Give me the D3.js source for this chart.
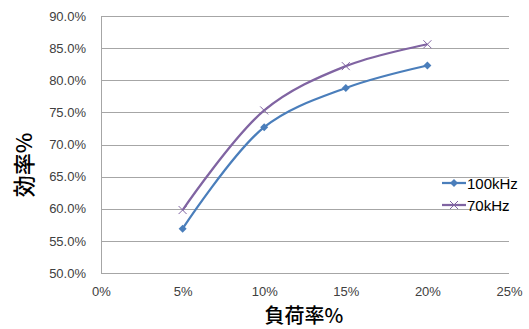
<!DOCTYPE html>
<html><head><meta charset="utf-8">
<script src="https://cdn.jsdelivr.net/npm/d3@7"></script>
<style>body{margin:0;background:#fff}svg{display:block}</style>
</head><body>
<svg id="c" width="529" height="329"></svg>
<script>
// Load ratio (x) and efficiency (y) for each switching frequency
const loads = [0.05, 0.10, 0.15, 0.20];
const eff100k = [0.569, 0.727, 0.788, 0.823];
const eff70k = [0.598, 0.753, 0.822, 0.856];
const seriesNames = ["100kHz", "70kHz"];
const xTicks = [0, 0.05, 0.10, 0.15, 0.20, 0.25];
const yTicks = [0.50, 0.55, 0.60, 0.65, 0.70, 0.75, 0.80, 0.85, 0.90];

(function () {
const svg = d3.select("#c");
const plotLeft = 101, plotRight = 509, plotTop = 16, plotBottom = 273;
const x = d3.scaleLinear().domain([0, 0.25]).range([plotLeft, plotRight]);
const y = d3.scaleLinear().domain([0.50, 0.90]).range([plotBottom, plotTop]);
const font = "'Liberation Sans', Arial, sans-serif";
const cjk = "'Noto Sans CJK JP', sans-serif";
const tickColor = "#404040";

// horizontal gridlines
svg.append("g").selectAll("line").data(yTicks).join("line")
  .attr("x1", plotLeft).attr("x2", plotRight)
  .attr("y1", d => Math.round(y(d)) + 0.5).attr("y2", d => Math.round(y(d)) + 0.5)
  .attr("stroke", "#a6a6a6").attr("stroke-width", 1);
// vertical axis line
svg.append("line").attr("x1", plotLeft + 0.5).attr("x2", plotLeft + 0.5)
  .attr("y1", plotTop).attr("y2", plotBottom + 0.5)
  .attr("stroke", "#a6a6a6");

// y tick labels
const yAxis = d3.axisLeft(y).tickValues(yTicks).tickFormat(d3.format(".1%")).tickSize(0).tickPadding(15);
const gy = svg.append("g").attr("transform", `translate(${plotLeft},0)`).call(yAxis);
gy.select(".domain").remove();
gy.selectAll("text").attr("font-family", font).attr("font-size", 13).attr("fill", tickColor);

// x tick labels
const xAxis = d3.axisBottom(x).tickValues(xTicks).tickFormat(d3.format(".0%")).tickSize(0).tickPadding(14);
const gx = svg.append("g").attr("transform", `translate(0,${plotBottom})`).call(xAxis);
gx.select(".domain").remove();
gx.selectAll("text").attr("font-family", font).attr("font-size", 13).attr("fill", tickColor);

// axis titles
svg.append("text").attr("transform", "translate(32,165) rotate(-90)")
  .attr("text-anchor", "middle").attr("font-family", cjk)
  .attr("font-size", 22).attr("font-weight", 500).attr("fill", "#000").text("効率%");
svg.append("text").attr("x", 304).attr("y", 323)
  .attr("text-anchor", "middle").attr("font-family", cjk)
  .attr("font-size", 20).attr("font-weight", 500).attr("fill", "#000").text("負荷率%");

const line = d3.line().x(d => x(d[0])).y(d => y(d[1])).curve(d3.curveCatmullRom.alpha(0.5));
const colors = ["#4a7ebb", "#8064a2"];
const data = [eff100k, eff70k].map(vals => loads.map((l, i) => [l, vals[i]]));

data.forEach((pts, si) => {
  svg.append("path").attr("d", line(pts)).attr("fill", "none")
    .attr("stroke", colors[si]).attr("stroke-width", 2.25);
});

// markers: diamond for 100kHz, cross for 70kHz
function diamond(g, cx, cy, c) {
  g.append("path").attr("d", `M${cx},${cy-4}L${cx+4},${cy}L${cx},${cy+4}L${cx-4},${cy}Z`).attr("fill", c);
}
function cross(g, cx, cy, c) {
  g.append("path").attr("d", `M${cx-4},${cy-4}L${cx+4},${cy+4}M${cx-4},${cy+4}L${cx+4},${cy-4}`)
    .attr("stroke", c).attr("stroke-width", 1).attr("fill", "none");
}
const mg = svg.append("g");
data[0].forEach(p => diamond(mg, x(p[0]), y(p[1]), colors[0]));
data[1].forEach(p => cross(mg, x(p[0]), y(p[1]), colors[1]));

// legend
const lg = svg.append("g");
seriesNames.forEach((name, i) => {
  const ly = 183 + i * 22;
  lg.append("line").attr("x1", 442).attr("x2", 466).attr("y1", ly).attr("y2", ly)
    .attr("stroke", colors[i]).attr("stroke-width", 2.25);
  if (i === 0) diamond(lg, 454, ly, colors[i]); else cross(lg, 454, ly, colors[i]);
  lg.append("text").attr("x", 467).attr("y", ly + 5.5).attr("font-family", font)
    .attr("font-size", 15).attr("fill", "#000").text(name);
});
})();
</script>
</body></html>
